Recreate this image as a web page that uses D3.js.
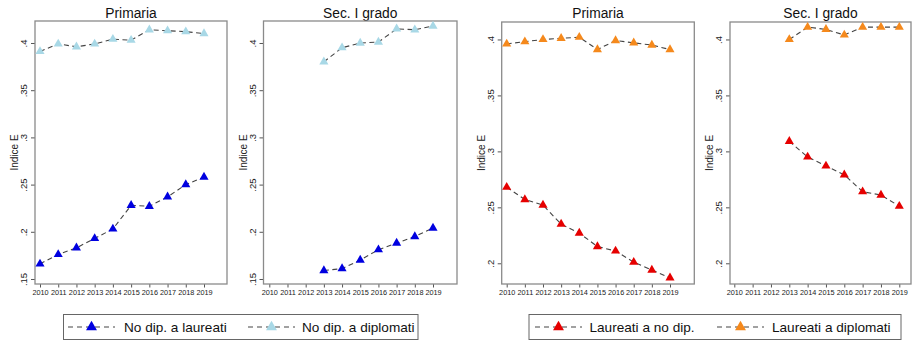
<!DOCTYPE html>
<html>
<head>
<meta charset="utf-8">
<script src="https://cdn.jsdelivr.net/npm/d3@7/dist/d3.min.js"></script>
<style>
  html, body { margin: 0; padding: 0; background: #fff; }
  svg { display: block; font-family: "Liberation Sans", Arial, sans-serif; }
</style>
</head>
<body>
<svg id="chart" width="914" height="342"></svg>
<script>
// ---- data ----
const years = [2010, 2011, 2012, 2013, 2014, 2015, 2016, 2017, 2018, 2019];
const titles = ["Primaria", "Sec. I grado", "Primaria", "Sec. I grado"];

const noDipLaureatiPrim  = [0.166, 0.176, 0.183, 0.193, 0.203, 0.228, 0.227, 0.237, 0.250, 0.258];
const noDipDiplomatiPrim = [0.391, 0.399, 0.396, 0.399, 0.404, 0.403, 0.414, 0.413, 0.412, 0.410];
const noDipLaureatiSec   = [null, null, null, 0.159, 0.161, 0.170, 0.181, 0.188, 0.195, 0.204];
const noDipDiplomatiSec  = [null, null, null, 0.380, 0.395, 0.400, 0.401, 0.415, 0.414, 0.418];

const laureatiNoDipPrim  = [0.268, 0.257, 0.252, 0.235, 0.227, 0.215, 0.211, 0.201, 0.194, 0.187];
const laureatiDiplPrim   = [0.396, 0.398, 0.400, 0.401, 0.402, 0.391, 0.399, 0.397, 0.395, 0.391];
const laureatiNoDipSec   = [null, null, null, 0.309, 0.295, 0.287, 0.279, 0.264, 0.261, 0.251];
const laureatiDiplSec    = [null, null, null, 0.400, 0.411, 0.409, 0.404, 0.411, 0.411, 0.411];

const yTicksA = [0.15, 0.2, 0.25, 0.3, 0.35, 0.4];
const yTicksB = [0.2, 0.25, 0.3, 0.35, 0.4];
const yTickFmt = v => d3.format(".2~f")(v).replace(/^0/, "");

const legendLabelsA = ["No dip. a laureati", "No dip. a diplomati"];
const legendLabelsB = ["Laureati a no dip.", "Laureati a diplomati"];

// ---- styles ----
const C_BLUE = "#0000e0", C_LBLUE = "#a8d8e6", C_RED = "#e60000", C_ORANGE = "#f5891c";

const panels = [
  { title: titles[0], box: [35, 227, 21, 284], x: [40, 204], yDom: [0.1447, 0.4233], ticks: yTicksA,
    series: [{ v: noDipDiplomatiPrim, c: C_LBLUE }, { v: noDipLaureatiPrim, c: C_BLUE }] },
  { title: titles[1], box: [263.5, 457, 21, 284], x: [269.3, 433], yDom: [0.1447, 0.4233], ticks: yTicksA,
    series: [{ v: noDipDiplomatiSec, c: C_LBLUE }, { v: noDipLaureatiSec, c: C_BLUE }] },
  { title: titles[2], box: [501.7, 694.3, 22, 284], x: [506.7, 670], yDom: [0.1815, 0.4156], ticks: yTicksB,
    series: [{ v: laureatiDiplPrim, c: C_ORANGE }, { v: laureatiNoDipPrim, c: C_RED }] },
  { title: titles[3], box: [730, 911, 22, 284], x: [734.3, 899.3], yDom: [0.1815, 0.4156], ticks: yTicksB,
    series: [{ v: laureatiDiplSec, c: C_ORANGE }, { v: laureatiNoDipSec, c: C_RED }] }
];

const svg = d3.select("#chart");
const tri = d3.symbol().type(d3.symbolTriangle);

panels.forEach(p => {
  const [l, r, t, b] = p.box;
  const x = d3.scaleLinear().domain([2010, 2019]).range(p.x);
  const y = d3.scaleLinear().domain(p.yDom).range([b, t]);
  const g = svg.append("g");

  // title
  g.append("text").attr("x", (l + r) / 2).attr("y", 17.5)
    .attr("text-anchor", "middle").attr("font-size", 13.8).attr("fill", "#111").text(p.title);

  // y axis
  const ya = g.append("g").attr("transform", `translate(${l},0)`)
    .call(d3.axisLeft(y).tickValues(p.ticks).tickFormat(yTickFmt).tickSize(4).tickPadding(0));
  ya.select(".domain").remove();
  ya.selectAll(".tick line").attr("stroke", "#555");
  ya.selectAll(".tick text")
    .attr("font-size", 9.5).attr("fill", "#222").attr("font-family", "Liberation Sans, Arial, sans-serif")
    .attr("text-anchor", "middle").attr("x", null).attr("dy", null)
    .attr("transform", "translate(-8,0) rotate(-90)");

  // y axis title
  g.append("text").attr("transform", `translate(${l - 17},${(t + b) / 2}) rotate(-90)`)
    .attr("text-anchor", "middle").attr("font-size", 10).attr("fill", "#222").text("Indice E");

  // x axis
  const xa = g.append("g").attr("transform", `translate(0,${b})`)
    .call(d3.axisBottom(x).tickValues(years).tickFormat(d3.format("d")).tickSize(3.5).tickPadding(2.5));
  xa.select(".domain").remove();
  xa.selectAll(".tick line").attr("stroke", "#555");
  xa.selectAll(".tick text").attr("font-size", 7.3).attr("fill", "#222")
    .attr("font-family", "Liberation Sans, Arial, sans-serif");

  // box
  g.append("rect").attr("x", l).attr("y", t).attr("width", r - l).attr("height", b - t)
    .attr("fill", "none").attr("stroke", "#8a8a8a").attr("stroke-width", 1.3);

  // series
  p.series.forEach(s => {
    const pts = years.map((yr, i) => ({ yr, v: s.v[i] })).filter(d => d.v != null);
    g.append("path").datum(pts)
      .attr("d", d3.line().x(d => x(d.yr)).y(d => y(d.v)))
      .attr("fill", "none").attr("stroke", "#444").attr("stroke-width", 1.1)
      .attr("stroke-dasharray", "5,3.5");
    g.selectAll(null).data(pts).enter().append("path")
      .attr("d", tri.size(36)())
      .attr("transform", d => `translate(${x(d.yr)},${y(d.v)})`)
      .attr("fill", s.c);
  });
});

// ---- legends ----
const legends = [
  { box: [63.5, 418, 314.5, 339.5], items: [
      { label: legendLabelsA[0], c: C_BLUE, s: 68, tx: 124 },
      { label: legendLabelsA[1], c: C_LBLUE, s: 248, tx: 302 } ] },
  { box: [529, 901, 314.5, 339.5], items: [
      { label: legendLabelsB[0], c: C_RED, s: 535, tx: 589.5 },
      { label: legendLabelsB[1], c: C_ORANGE, s: 717, tx: 772 } ] }
];
legends.forEach(L => {
  const [l, r, t, b] = L.box;
  const g = svg.append("g");
  g.append("rect").attr("x", l).attr("y", t).attr("width", r - l).attr("height", b - t)
    .attr("fill", "#fff").attr("stroke", "#666").attr("stroke-width", 1);
  const cy = (t + b) / 2;
  L.items.forEach(it => {
    g.append("line").attr("x1", it.s).attr("x2", it.s + 47).attr("y1", cy).attr("y2", cy)
      .attr("stroke", "#444").attr("stroke-width", 1.1).attr("stroke-dasharray", "5,4");
    g.append("path").attr("d", tri.size(52)())
      .attr("transform", `translate(${it.s + 23.5},${cy})`).attr("fill", it.c);
    g.append("text").attr("x", it.tx).attr("y", cy + 5).attr("font-size", 13.6)
      .attr("fill", "#111").text(it.label);
  });
});
</script>
</body>
</html>
